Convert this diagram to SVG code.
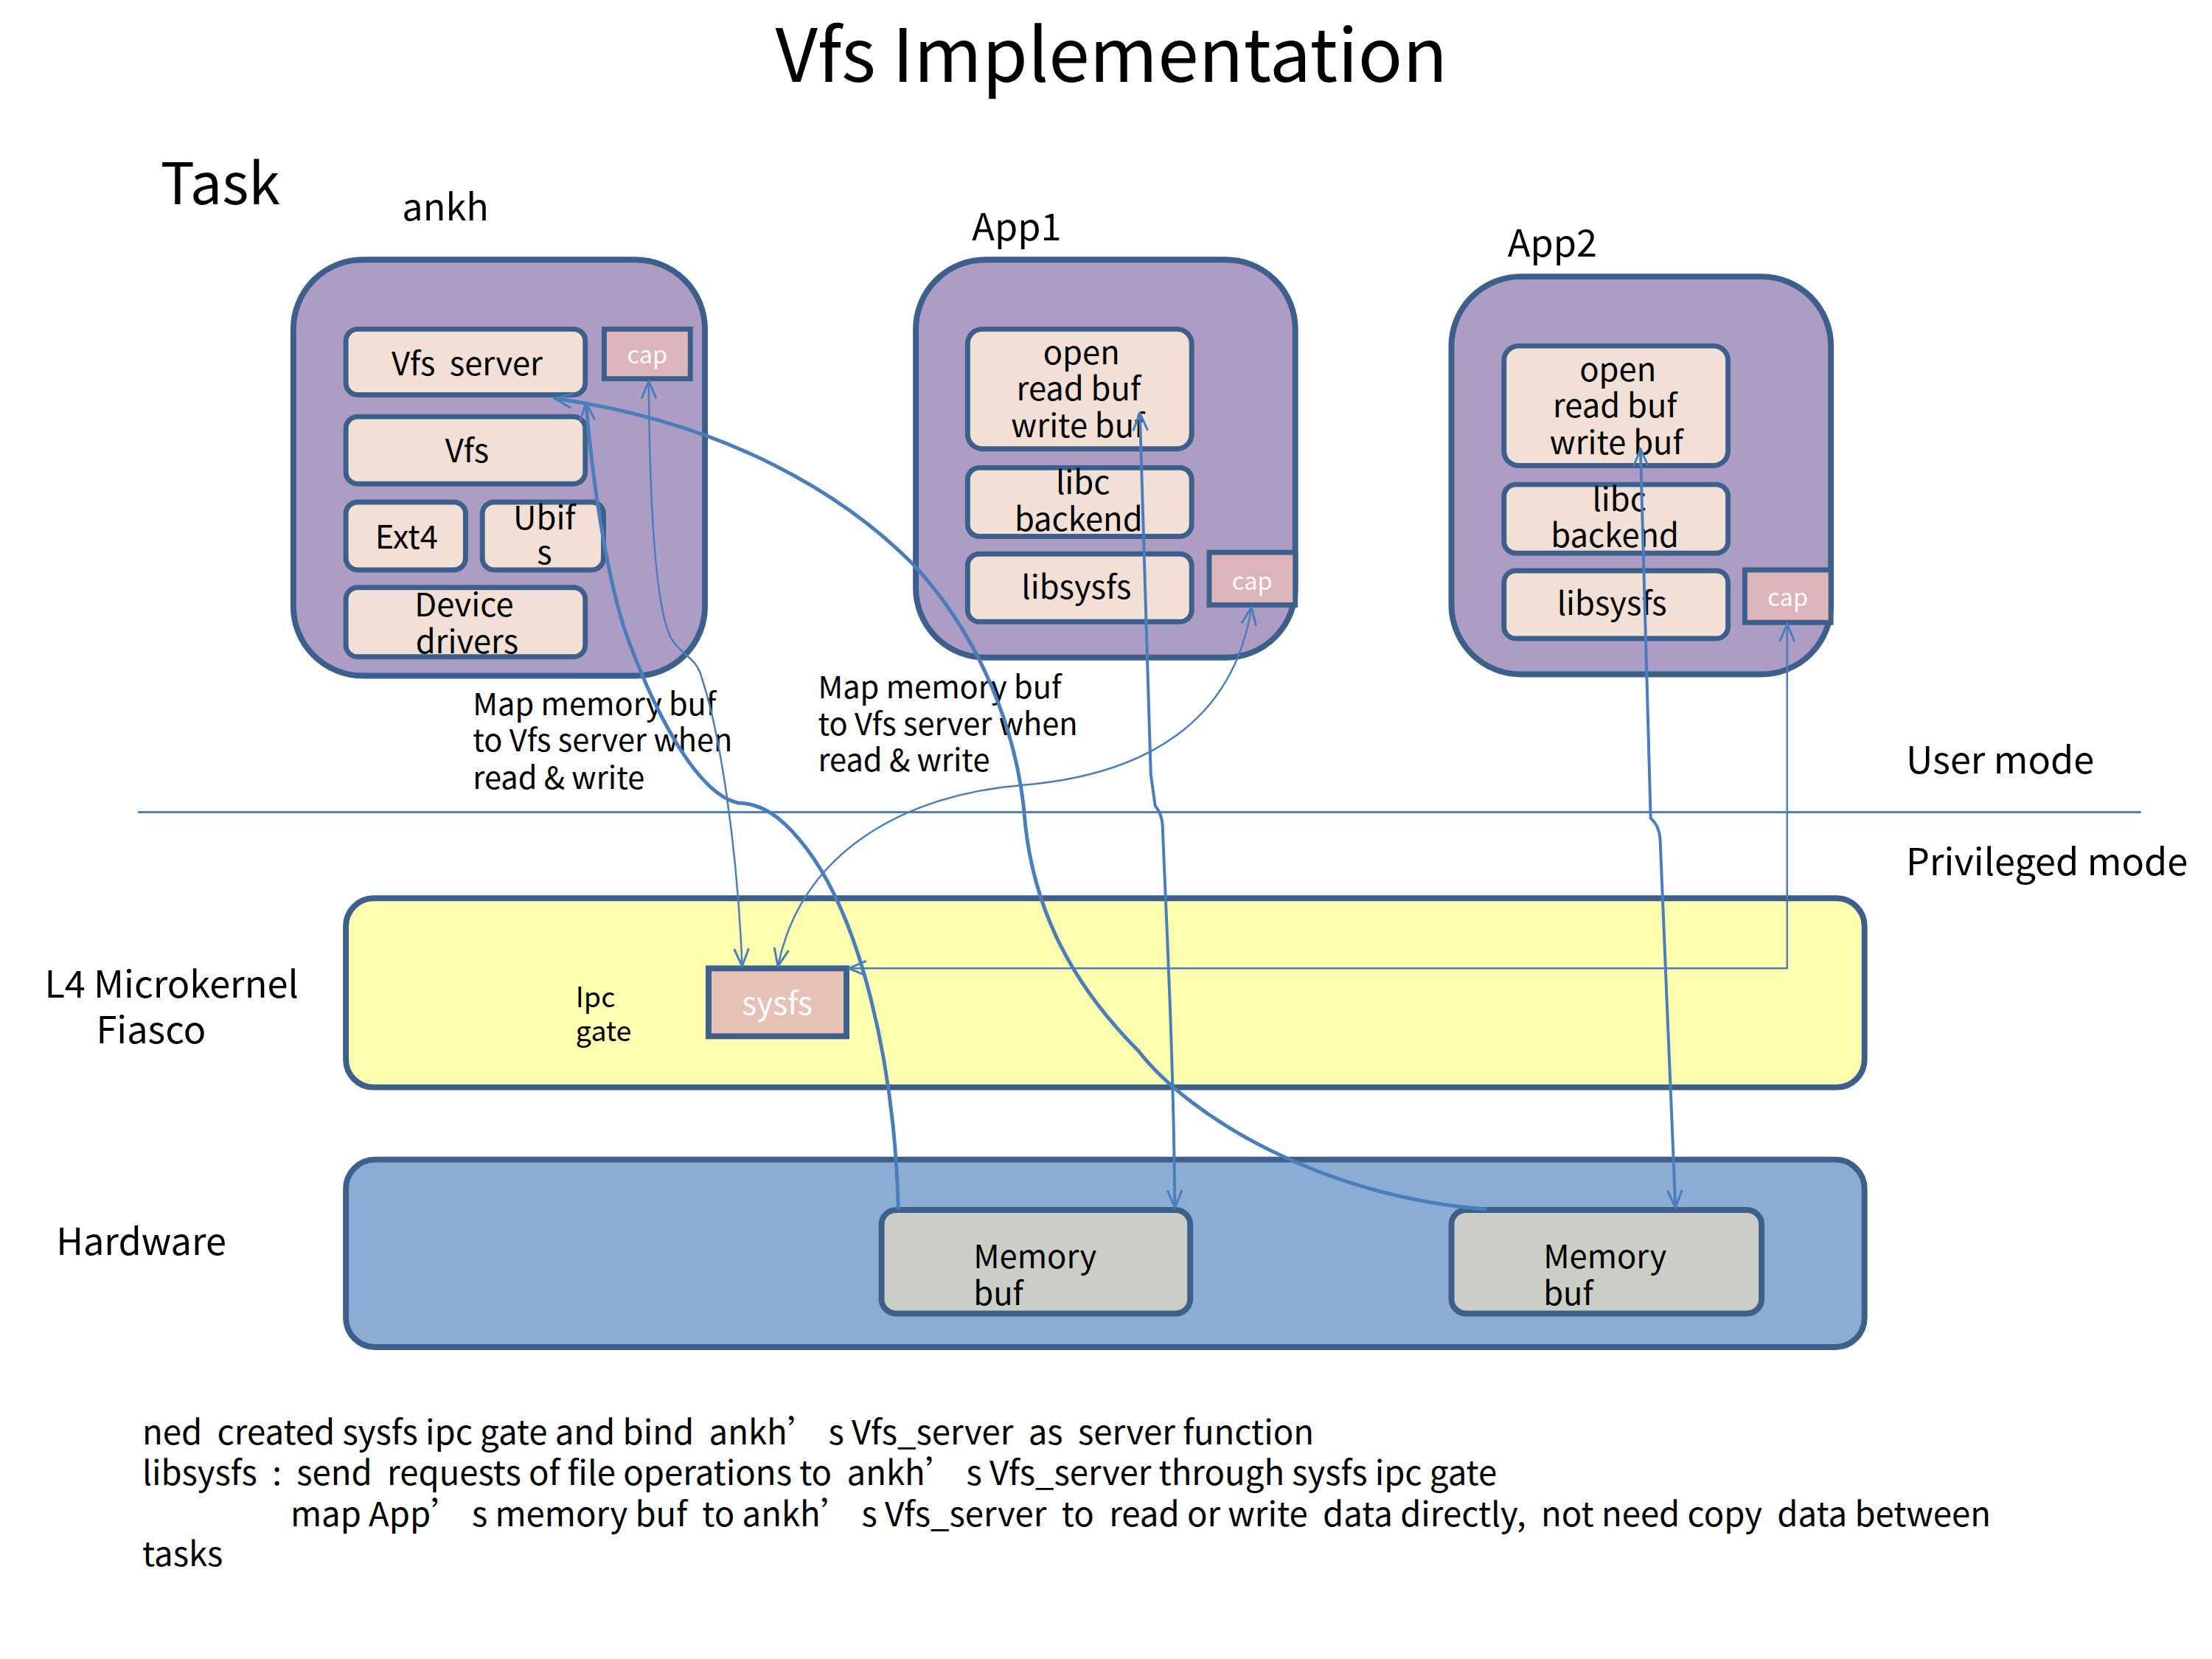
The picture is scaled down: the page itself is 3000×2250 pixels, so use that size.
<svg xmlns="http://www.w3.org/2000/svg" width="3000" height="2250" viewBox="0 0 3000 2250" xml:space="preserve">
<style>
text{font-family:"Noto Sans CJK SC","Noto Sans",sans-serif;fill:#000;white-space:pre}
.task{fill:#AD9CC4;stroke:#3C5F8C;stroke-width:8}
.inner{fill:#F2E0D6;stroke:#3C5F8C;stroke-width:7}
.cap{fill:#DDB4BA;stroke:#3C5F8C;stroke-width:7}
.w{fill:#fff}
.c{text-anchor:middle}
.lbl{font-size:51px}
.it{font-size:44px}
.map{font-size:42px}
.note{font-size:46px}
.con{fill:none;stroke:#4A7EBB}
.thick{stroke-width:5}
.med{stroke-width:4}
.thin{stroke-width:2.5}
</style>
<defs>
<marker id="arr" markerUnits="userSpaceOnUse" viewBox="0 0 28 24" refX="26" refY="12" markerWidth="28" markerHeight="24" orient="auto-start-reverse">
<path d="M2,2 L26,12 L2,22" fill="none" stroke="#4A7EBB" stroke-width="3"/>
</marker>
</defs>
<rect width="3000" height="2250" fill="#fff"/>
<g transform="scale(0.9897)">

<text x="1523" y="112" class="c" font-size="101">Vfs Implementation</text>
<text id="task-label" x="220" y="280" font-size="78">Task</text>

<g id="ankh">
<text x="551" y="302" class="lbl">ankh</text>
<rect class="task" x="402" y="356" width="564" height="570" rx="95"/>
<rect class="inner" x="474" y="451" width="328" height="90" rx="16"/>
<text x="640" y="514" class="c it">Vfs  server</text>
<rect class="cap" x="828" y="451" width="118" height="68"/>
<text x="887" y="498" class="c w" font-size="33">cap</text>
<rect class="inner" x="474" y="571" width="328" height="92" rx="16"/>
<text x="640" y="634" class="c it">Vfs</text>
<rect class="inner" x="474" y="688" width="164" height="93" rx="16"/>
<text x="557" y="752" class="c it">Ext4</text>
<rect class="inner" x="661" y="688" width="166" height="93" rx="16"/>
<text x="746" y="725" class="c it">Ubif</text>
<text x="746" y="773" class="c it">s</text>
<rect class="inner" x="474" y="805" width="328" height="95" rx="16"/>
<text x="636" y="845" class="c it">Device</text>
<text x="640" y="895" class="c it">drivers</text>
</g>

<g id="app1">
<text x="1332" y="329" class="lbl">App1</text>
<rect class="task" x="1255" y="356" width="520" height="545" rx="95"/>
<rect class="inner" x="1326" y="451" width="307" height="164" rx="20"/>
<text x="1482" y="499" class="c it">open</text>
<text x="1478" y="549" class="c it">read buf</text>
<text x="1477" y="599" class="c it">write buf</text>
<rect class="inner" x="1326" y="641" width="307" height="94" rx="16"/>
<text x="1484" y="677" class="c it">libc</text>
<text x="1478" y="727" class="c it">backend</text>
<rect class="inner" x="1326" y="759" width="307" height="93" rx="16"/>
<text x="1475" y="820" class="c it">libsysfs</text>
<rect class="cap" x="1657" y="757" width="118" height="72"/>
<text x="1716" y="808" class="c w" font-size="33">cap</text>
</g>

<g id="app2">
<text x="2066" y="352" class="lbl">App2</text>
<rect class="task" x="1989" y="379" width="520" height="545" rx="95"/>
<rect class="inner" x="2061" y="474" width="307" height="164" rx="20"/>
<text x="2217" y="522" class="c it">open</text>
<text x="2213" y="572" class="c it">read buf</text>
<text x="2215" y="622" class="c it">write buf</text>
<rect class="inner" x="2061" y="664" width="307" height="94" rx="16"/>
<text x="2219" y="700" class="c it">libc</text>
<text x="2213" y="750" class="c it">backend</text>
<rect class="inner" x="2061" y="782" width="307" height="93" rx="16"/>
<text x="2209" y="843" class="c it">libsysfs</text>
<rect class="cap" x="2391" y="781" width="118" height="72"/>
<text x="2450" y="831" class="c w" font-size="33">cap</text>
</g>

<g id="modes">
<line x1="189" y1="1113" x2="2934" y2="1113" stroke="#4F81BD" stroke-width="3"/>
<text x="2612" y="1060" class="lbl">User mode</text>
<text x="2612" y="1199" class="lbl">Privileged mode</text>
</g>

<g id="l4">
<rect x="474" y="1231" width="2081" height="259" rx="38" fill="#FFFFB0" stroke="#3C5F8C" stroke-width="8"/>
<text x="235" y="1367" class="c lbl">L4 Microkernel</text>
<text x="207" y="1430" class="c lbl">Fiasco</text>
<text x="789" y="1380" font-size="38">Ipc</text>
<text x="789" y="1427" font-size="38">gate</text>
</g>

<g id="sysfs">
<rect x="971" y="1327" width="189" height="93" fill="#E6C1B6" stroke="#3C5F8C" stroke-width="8"/>
<text x="1065" y="1390" class="c w" font-size="43">sysfs</text>
</g>

<g id="hardware">
<rect x="474" y="1589" width="2081" height="257" rx="40" fill="#8BADD4" stroke="#3C5F8C" stroke-width="8"/>
<text x="77" y="1720" class="lbl">Hardware</text>
</g>

<g id="membuf1">
<rect x="1208" y="1658" width="423" height="142" rx="20" fill="#CBCEC6" stroke="#3C5F8C" stroke-width="8"/>
<text x="1334" y="1738" class="it">Memory</text>
<text x="1334" y="1788" class="it">buf</text>
</g>

<g id="membuf2">
<rect x="1989" y="1658" width="425" height="142" rx="20" fill="#CBCEC6" stroke="#3C5F8C" stroke-width="8"/>
<text x="2115" y="1738" class="it">Memory</text>
<text x="2115" y="1788" class="it">buf</text>
</g>

<g id="labels">
<text x="648" y="980" class="map">Map memory buf</text>
<text x="648" y="1030" class="map">to Vfs server when</text>
<text x="648" y="1081" class="map">read &amp; write</text>
<text x="1121" y="957" class="map">Map memory buf</text>
<text x="1121" y="1007" class="map">to Vfs server when</text>
<text x="1121" y="1057" class="map">read &amp; write</text>
</g>

<g id="connectors">
<path class="con thick" marker-end="url(#arr)" d="M1231,1657 C1226,1460 1180,1250 1095,1150 C1070,1120 1045,1101 1010,1100 C950,1085 890,960 855,860 C830,780 812,660 803,552"/>
<path class="con thick" marker-end="url(#arr)" d="M2037,1657 C1810,1640 1630,1530 1560,1440 C1470,1350 1418,1250 1405,1130 C1396,1000 1340,870 1254,776 C1160,680 1000,580 760,546"/>
<path class="con thin" marker-start="url(#arr)" marker-end="url(#arr)" d="M889,522 C890,660 895,830 920,875 C932,897 955,900 962,930 C985,1000 1010,1150 1017,1324"/>
<path class="con thin" marker-start="url(#arr)" marker-end="url(#arr)" d="M1715,832 C1690,990 1570,1062 1400,1076 C1250,1088 1100,1160 1066,1324"/>
<path class="con thin" marker-start="url(#arr)" marker-end="url(#arr)" d="M2449,855 L2449,1327 L1163,1327"/>
<path class="con med" marker-start="url(#arr)" marker-end="url(#arr)" d="M1562,566 L1577,1061 L1583,1104 Q1592,1115 1593,1130 C1600,1300 1608,1450 1610,1655"/>
<path class="con med" marker-start="url(#arr)" marker-end="url(#arr)" d="M2248,615 L2262,1121 Q2274,1132 2275,1150 L2296,1655"/>
</g>

<g id="notes">
<text x="195" y="1979" class="note">ned  created sysfs ipc gate and bind  ankh’ s Vfs_server  as  server function</text>
<text x="195" y="2035" class="note">libsysfs  :  send  requests of file operations to  ankh’ s Vfs_server through sysfs ipc gate</text>
<text x="398" y="2092" class="note">map App’ s memory buf  to ankh’ s Vfs_server  to  read or write  data directly,  not need copy  data between</text>
<text x="195" y="2146" class="note">tasks</text>
</g>
</g>
</svg>
